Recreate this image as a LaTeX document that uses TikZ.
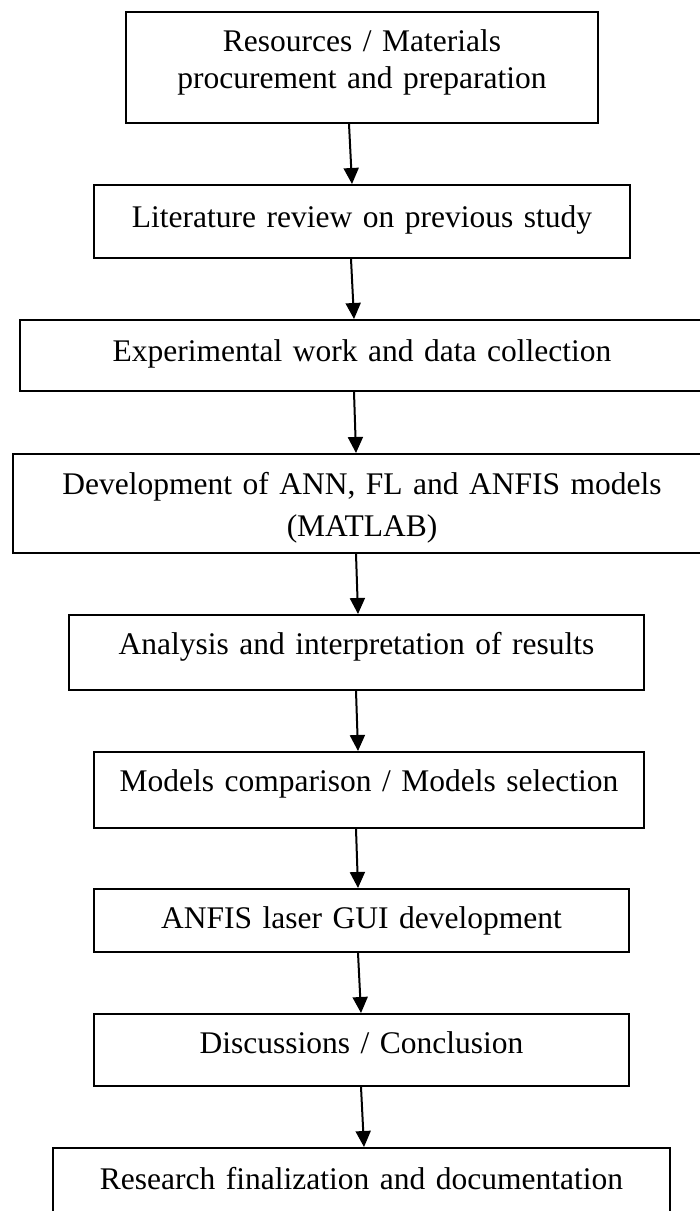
\documentclass[tikz,border=0pt]{standalone}
\usepackage{fontspec}
\setmainfont{Liberation Serif}
\usetikzlibrary{arrows.meta, positioning}

\begin{document}
\begin{tikzpicture}[x=0.5pt, y=0.5pt]
            \tikzset{stage/.style = {draw, line width=1pt, inner sep=0pt, anchor=north, align=center,
                                     font=\fontsize{15.75pt}{18.5pt}\selectfont},
                     edge/.style = {-{Triangle[length=8pt,width=7.5pt]}, line width=1pt}}
            % page
            \fill[white] (0,0) rectangle (700,-1211);
            \useasboundingbox (0,0) rectangle (700,-1211);
            \clip (0,0) rectangle (700,-1211);
            % stages
            \node[stage, text width=236pt, text height=19.5pt, text depth=36pt] (res) at (362,-11) {Resources / Materials\\procurement and preparation};
            \node[stage, text width=268pt, text height=21pt, text depth=15.5pt] (lit) at (362,-184) {Literature review on previous study};
            \node[stage, text width=342pt, text height=20.5pt, text depth=15pt] (exp) at (362,-319) {Experimental work and data collection};
            \node[stage, text width=349pt, text height=20pt, text depth=29.5pt] (dev) at (362,-453) {Development of ANN, FL and ANFIS models\\[2.5pt](MATLAB)};
            \node[stage, text width=287.5pt, text height=19.5pt, text depth=18pt] (ana) at (356.5,-614) {Analysis and interpretation of results};
            \node[stage, text width=275pt, text height=19.5pt, text depth=18.5pt] (cmp) at (369,-751) {Models comparison / Models selection};
            \node[stage, text width=267.5pt, text height=19.5pt, text depth=12pt] (gui) at (361.5,-888) {ANFIS laser GUI development};
            \node[stage, text width=267.5pt, text height=19.5pt, text depth=16.5pt] (dis) at (361.5,-1013) {Discussions / Conclusion};
            \node[stage, text width=308.5pt, text height=20.5pt, text depth=30pt] (fin) at (361.5,-1147) {Research finalization and documentation};
            % edges
            \draw[edge] ([xshift=-6.5pt]res.south) -- ([xshift=-5pt]lit.north);
            \draw[edge] ([xshift=-5.5pt]lit.south) -- ([xshift=-4pt]exp.north);
            \draw[edge] ([xshift=-4pt]exp.south) -- ([xshift=-3pt]dev.north);
            \draw[edge] ([xshift=-3pt]dev.south) -- ([xshift=0.75pt]ana.north);
            \draw[edge] ([xshift=-0.25pt]ana.south) -- ([xshift=-5.5pt]cmp.north);
            \draw[edge] ([xshift=-6.5pt]cmp.south) -- ([xshift=-1.75pt]gui.north);
            \draw[edge] ([xshift=-1.75pt]gui.south) -- ([xshift=-0.25pt]dis.north);
            \draw[edge] ([xshift=-0.25pt]dis.south) -- ([xshift=1.25pt]fin.north);
\end{tikzpicture}
\end{document}
